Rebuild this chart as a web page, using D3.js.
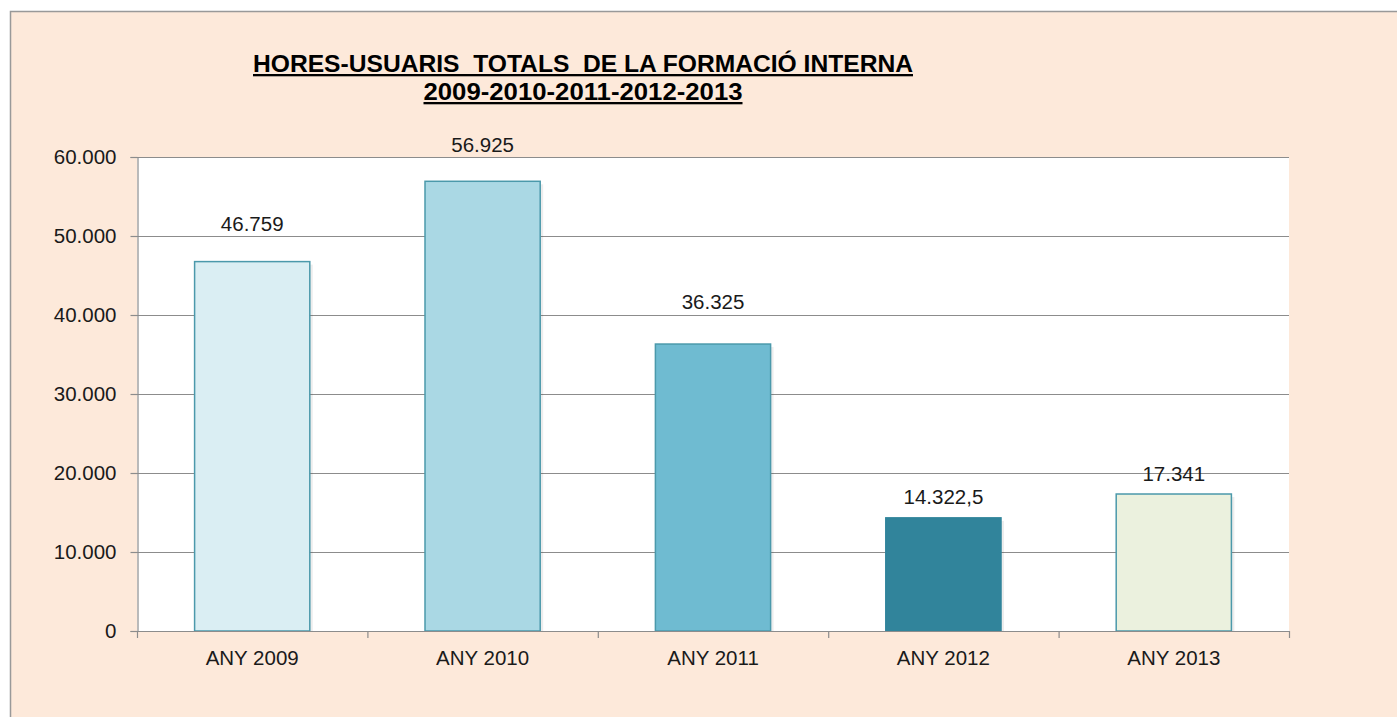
<!DOCTYPE html>
<html>
<head>
<meta charset="utf-8">
<script src="https://cdn.jsdelivr.net/npm/d3@7"></script>
<style>
  html, body { margin: 0; padding: 0; background: #fff; }
  svg { display: block; font-family: "Liberation Sans", Arial, sans-serif; }
</style>
</head>
<body>
<svg id="chart" width="1397" height="717"></svg>
<script>
const years = ["ANY 2009", "ANY 2010", "ANY 2011", "ANY 2012", "ANY 2013"];
const hours = [46759, 56925, 36325, 14322.5, 17341];
const valueLabels = ["46.759", "56.925", "36.325", "14.322,5", "17.341"];
const barColors = ["#daeef3", "#aad8e4", "#6fbbd1", "#31849b", "#ebf1de"];
const yTicks = [0, 10000, 20000, 30000, 40000, 50000, 60000];
const titleLines = ["HORES-USUARIS  TOTALS  DE LA FORMACIÓ INTERNA", "2009-2010-2011-2012-2013"];

// label gap above each bar, as placed in the original
const labelGap = [31, 29, 35, 14, 13];
const titleWidths = [660, 319];

const svg = d3.select("#chart");
const plot = { left: 137, right: 1289, top: 157, bottom: 631 };
const fontSize = 20.5;

// chart area
svg.append("rect")
  .attr("x", 10.5).attr("y", 11.5)
  .attr("width", 1400).attr("height", 720)
  .attr("fill", "#fde9da")
  .attr("stroke", "#999").attr("stroke-width", 1.5);

svg.append("rect")
  .attr("x", plot.left).attr("y", plot.top)
  .attr("width", plot.right - plot.left).attr("height", plot.bottom - plot.top)
  .attr("fill", "#fff");

const x = d3.scaleBand().domain(years).range([plot.left, plot.right]).paddingInner(0.5).paddingOuter(0.25);
const y = d3.scaleLinear().domain([0, 60000]).range([plot.bottom, plot.top]);
const fmt = d3.formatLocale({ decimal: ",", thousands: ".", grouping: [3], currency: ["", ""] }).format(",");

// gridlines
svg.append("g").selectAll("line").data(yTicks.filter((d) => d > 0)).join("line")
  .attr("x1", plot.left).attr("x2", plot.right)
  .attr("y1", (d) => Math.round(y(d)) + 0.5).attr("y2", (d) => Math.round(y(d)) + 0.5)
  .attr("stroke", "#8c8c8c").attr("stroke-width", 1.2);

// y axis
const yAxis = svg.append("g")
  .attr("transform", `translate(${plot.left + 0.5},0)`)
  .call(d3.axisLeft(y).tickValues(yTicks).tickSize(7).tickPadding(14).tickFormat(fmt));
yAxis.select(".domain").attr("stroke", "#8c8c8c").attr("stroke-width", 1.2);
yAxis.selectAll(".tick line").attr("stroke", "#8c8c8c").attr("stroke-width", 1.2);
yAxis.selectAll("text").attr("font-size", fontSize).attr("fill", "#1a1a1a")
  .attr("font-family", "'Liberation Sans', Arial, sans-serif");

// shadows
svg.append("g").selectAll("rect").data(hours).join("rect")
  .attr("x", (d, i) => x(years[i]) + 3)
  .attr("y", (d) => y(d) + 3)
  .attr("width", x.bandwidth())
  .attr("height", (d) => y(0) - y(d) - 3)
  .attr("fill", "#000").attr("opacity", 0.07);

// bars
svg.append("g").selectAll("rect").data(hours).join("rect")
  .attr("x", (d, i) => x(years[i]))
  .attr("y", (d) => y(d))
  .attr("width", x.bandwidth())
  .attr("height", (d) => y(0) - y(d))
  .attr("fill", (d, i) => barColors[i])
  .attr("stroke", (d, i) => (i === 3 ? barColors[i] : "#4b99ab"))
  .attr("stroke-width", 1.5);

// x axis
const xEdges = d3.range(years.length + 1).map((i) => plot.left + i * x.step());
const xAxis = svg.append("g");
xAxis.append("line")
  .attr("x1", plot.left).attr("x2", plot.right)
  .attr("y1", plot.bottom + 0.5).attr("y2", plot.bottom + 0.5)
  .attr("stroke", "#8c8c8c").attr("stroke-width", 1.2);
xAxis.selectAll("line.tick").data(xEdges).join("line").attr("class", "tick")
  .attr("x1", (d) => d + 0.5).attr("x2", (d) => d + 0.5)
  .attr("y1", plot.bottom).attr("y2", plot.bottom + 7)
  .attr("stroke", "#8c8c8c").attr("stroke-width", 1.2);
xAxis.selectAll("text").data(years).join("text")
  .attr("x", (d) => x(d) + x.bandwidth() / 2)
  .attr("y", plot.bottom + 34)
  .attr("text-anchor", "middle")
  .attr("font-size", fontSize).attr("fill", "#1a1a1a")
  .text((d) => d);

// value labels
svg.append("g").selectAll("text").data(hours).join("text")
  .attr("x", (d, i) => x(years[i]) + x.bandwidth() / 2)
  .attr("y", (d, i) => y(d) - labelGap[i])
  .attr("text-anchor", "middle")
  .attr("font-size", fontSize).attr("fill", "#1a1a1a")
  .text((d, i) => valueLabels[i]);

// title
svg.append("g").selectAll("text").data(titleLines).join("text")
  .attr("x", 583)
  .attr("y", (d, i) => 72 + i * 28)
  .attr("text-anchor", "middle")
  .attr("font-family", "'Liberation Sans Narrow', 'Liberation Sans', Arial, sans-serif")
  .attr("font-size", 23).attr("font-weight", "bold").attr("fill", "#000")
  .attr("text-decoration", "underline")
  .attr("textLength", (d, i) => titleWidths[i])
  .attr("lengthAdjust", "spacingAndGlyphs")
  .style("white-space", "pre")
  .text((d) => d);
</script>
</body>
</html>
